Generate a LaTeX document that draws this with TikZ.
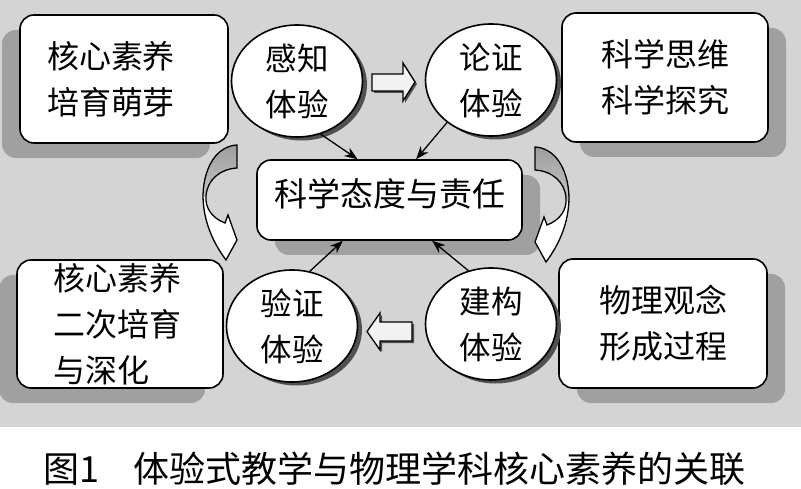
\documentclass[tikz,border=0pt]{standalone}
\usepackage{fontspec}
\setmainfont{Noto Sans CJK SC}
\usetikzlibrary{shapes.geometric,arrows.meta,calc,shadows}
\definecolor{bggray}{HTML}{D4D4D4}
\definecolor{boxsh}{HTML}{A0A0A0}
\definecolor{ellsh}{HTML}{505050}
\definecolor{arrtop}{HTML}{9A9A9A}
\definecolor{arrbot}{HTML}{C4C4C4}
\definecolor{blockfill}{HTML}{F2F2F2}
\newcommand\bxfont{\fontsize{32pt}{46pt}\selectfont}
\newcommand\elfont{\fontsize{31.5pt}{46pt}\selectfont}
\newcommand\ctfont{\fontsize{33pt}{40pt}\selectfont}
\newcommand\cpfont{\fontsize{36pt}{40pt}\selectfont}
\tikzset{
  box/.style={draw=black, line width=1.6pt, fill=white, rounded corners=14pt, inner sep=0pt, font=\bxfont},
  ell/.style={ellipse, draw=black, line width=1.6pt, fill=white, inner sep=0pt, align=center, font=\elfont,
    minimum width=131pt, minimum height=112pt,
    drop shadow={shadow xshift=4.5pt, shadow yshift=-3.5pt, fill=ellsh, opacity=1}},
  lshadow/.style={drop shadow={shadow xshift=-18pt, shadow yshift=-15pt, fill=boxsh, opacity=1}},
  rshadow/.style={drop shadow={shadow xshift=18pt, shadow yshift=-15pt, fill=boxsh, opacity=1}},
  sarrow/.style={-{Stealth[length=13pt,width=10pt]}, line width=1.3pt},
  barrow/.style={draw=black, line width=1.3pt, fill=blockfill},
  curvline/.style={draw=black, line width=1.3pt},
  curv/.style={insert path={(237,145) .. controls (218,146) and (204,165) .. (203,195)
     .. controls (203,222) and (214,244) .. (226,260) -- (237,240) -- (228,215) -- (225,223)
     .. controls (212,218) and (205,208) .. (206,196) .. controls (207,180) and (220,169) .. (237,168) -- cycle}},
}
\begin{document}
\begin{tikzpicture}[x=1pt,y=-1pt]
\useasboundingbox (0,0) rectangle (801,489);
\fill[white] (0,0) rectangle (801,489);
\fill[bggray] (0,0) rectangle (801,427);

% boxes
\node[box, lshadow, minimum width=208pt, minimum height=128pt, text width=154pt, inner xsep=27pt, align=left] (b1) at (124,79) {核心素养\\培育萌芽};
\node[box, rshadow, minimum width=206pt, minimum height=129pt, align=center] (b2) at (665,77.5) {科学思维\\科学探究};
\node[box, lshadow, minimum width=206pt, minimum height=128pt, text width=134pt, inner xsep=36pt, align=left] (b3) at (120,324) {核心素养\\二次培育\\与深化};
\node[box, rshadow, minimum width=208pt, minimum height=129pt, align=center] (b4) at (663,323.5) {物理观念\\形成过程};
\node[box, rshadow, minimum width=265pt, minimum height=80pt, font=\ctfont, text height=29pt, text depth=16pt] (c) at (389.5,200) {科学态度与责任};

% ellipses
\node[ell] (gz) at (297,81) {感知\\体验};
\node[ell] (lz) at (491,80) {论证\\体验};
\node[ell] (yz) at (292,326) {验证\\体验};
\node[ell] (jg) at (491,324) {建构\\体验};

% curved arrows
\begin{scope}
  \begin{scope}
    \path[clip, curv];
    \fill[white] (190,130) rectangle (250,270);
    \shade[top color=arrtop, bottom color=arrbot] (190,140) rectangle (250,197);
  \end{scope}
  \path[curvline, curv];
\end{scope}
\begin{scope}[xshift=772pt, yshift=-2pt, xscale=-1]
  \begin{scope}
    \path[clip, curv];
    \fill[white] (190,130) rectangle (250,270);
    \shade[top color=arrtop, bottom color=arrbot] (190,140) rectangle (250,199);
  \end{scope}
  \path[curvline, curv];
\end{scope}

% block arrows
\fill[ellsh] (374,76) -- (405,76) -- (405,65) -- (417,84) -- (405,103) -- (405,93) -- (374,93) -- cycle;
\path[barrow] (372,74) -- (403,74) -- (403,63) -- (415,82) -- (403,101) -- (403,91) -- (372,91) -- cycle;
\fill[ellsh] (369,333.5) -- (382,315) -- (382,324) -- (414,324) -- (414,343) -- (382,343) -- (382,352) -- cycle;
\path[barrow] (367,331.5) -- (380,313) -- (380,322) -- (412,322) -- (412,341) -- (380,341) -- (380,350) -- cycle;

% small arrows
\draw[sarrow] (gz.-66) -- ($(c.north west)!0.38!(c.north east)$);
\draw[sarrow] (lz.-136) -- ($(c.north west)!0.6!(c.north east)$);
\draw[sarrow] (yz.72) -- ($(c.south west)!0.325!(c.south east)$);
\draw[sarrow] (jg.113) -- ($(c.south west)!0.66!(c.south east)$);

% caption
\node[anchor=west, font=\cpfont, inner sep=0pt] (cap) at (43,469) {图1\hspace{34pt}体验式教学与物理学科核心素养的关联};
\end{tikzpicture}
\end{document}
